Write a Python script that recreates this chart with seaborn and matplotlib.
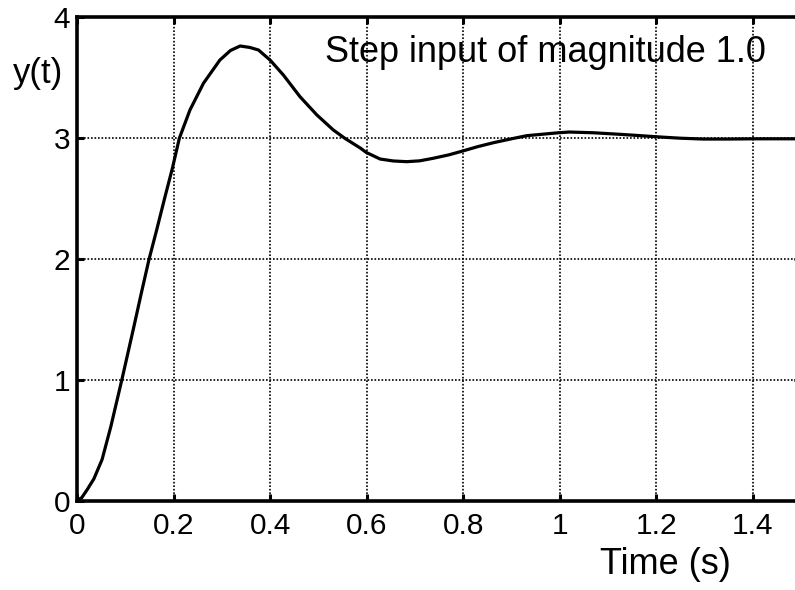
import matplotlib
matplotlib.use("Agg")
import matplotlib.pyplot as plt
import seaborn as sns
import pandas as pd

# Readings from the reference
time_s = [0, 0.01, 0.021, 0.035, 0.052, 0.07, 0.093, 0.118, 0.133, 0.149, 0.165,
          0.1824, 0.1976, 0.212, 0.234, 0.262, 0.296, 0.318, 0.338, 0.358, 0.376,
          0.400, 0.4276, 0.462, 0.497, 0.531, 0.555, 0.5876, 0.599, 0.628, 0.655,
          0.683, 0.71, 0.738, 0.77, 0.799, 0.83, 0.863, 0.90, 0.932, 0.9975, 1.02,
          1.07, 1.125, 1.16, 1.2, 1.25, 1.298, 1.35, 1.4, 1.45, 1.5]
response = [0, 0.025, 0.09, 0.18, 0.34, 0.61, 1.0, 1.44, 1.71, 1.99, 2.236,
            2.512, 2.746, 2.994, 3.228, 3.449, 3.641, 3.72, 3.757, 3.745, 3.724,
            3.641, 3.517, 3.338, 3.187, 3.063, 2.994, 2.912, 2.878, 2.823, 2.807,
            2.801, 2.808, 2.829, 2.857, 2.889, 2.925, 2.958, 2.99, 3.016, 3.040, 3.046,
            3.040, 3.027, 3.018, 3.007, 2.995, 2.988, 2.988, 2.99, 2.99, 2.99]
x_ticks = [0, 0.2, 0.4, 0.6, 0.8, 1.0, 1.2, 1.4]
x_ticklabels = ["0", "0.2", "0.4", "0.6", "0.8", "1", "1.2", "1.4"]
y_ticks = [0, 1, 2, 3, 4]
y_ticklabels = ["0", "1", "2", "3", "4"]

df = pd.DataFrame({"t": time_s, "y": response})

sns.set_theme(style="white")
plt.rcParams["font.family"] = ["Liberation Sans", "DejaVu Sans"]

W, H = 795, 590
fig = plt.figure(figsize=(W / 100, H / 100), dpi=100)
ax = fig.add_axes([77 / W, (H - 500.6) / H, 724 / W, (500.6 - 16.6) / H])

sns.lineplot(data=df, x="t", y="y", ax=ax, color="black", linewidth=2.3)

ax.set_xlim(0, 1.5)
ax.set_ylim(0, 4)
ax.set_xticks(x_ticks)
ax.set_xticklabels(x_ticklabels)
ax.set_yticks(y_ticks)
ax.set_yticklabels(y_ticklabels)
ax.set_xlabel("")
ax.set_ylabel("")

ax.grid(True, color="black", linestyle=(0, (1, 1.1)), linewidth=1.2)
for s in ax.spines.values():
    s.set_color("black")
    s.set_linewidth(2.6)
    s.set_visible(True)
ax.tick_params(axis="both", direction="in", length=5, width=2.2, colors="black",
               labelsize=21.5, top=True, right=True, bottom=True, left=True)
ax.tick_params(axis="x", pad=8)
ax.tick_params(axis="y", pad=5)

ax.text((766 - 77) / 724, (500.6 - 52) / 484, "Step input of magnitude 1.0",
        transform=ax.transAxes, ha="right", va="center", fontsize=26, color="black")
fig.text(38 / W, 1 - 74 / H, "y(t)", ha="center", va="center", fontsize=25, color="black")
fig.text(665 / W, 1 - 565 / H, "Time (s)", ha="center", va="center", fontsize=26, color="black")

fig.savefig("out.png", dpi=100, facecolor="white")
